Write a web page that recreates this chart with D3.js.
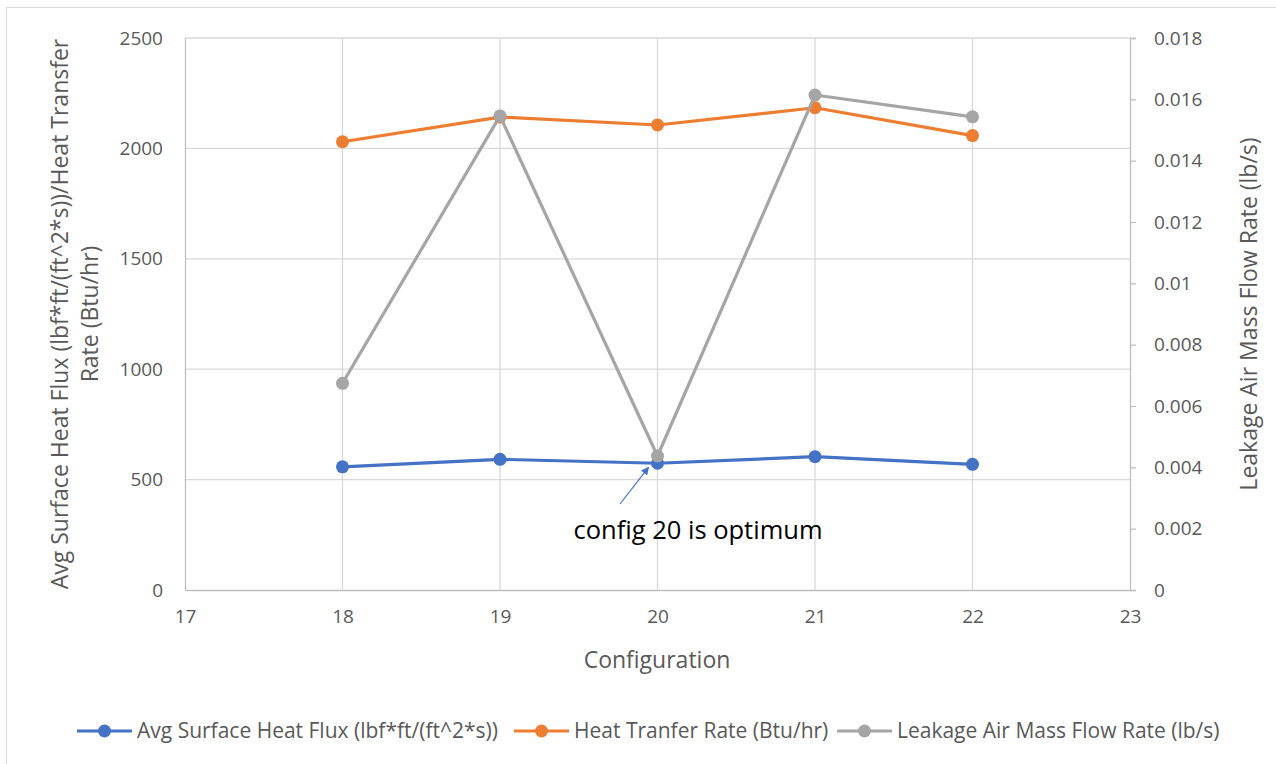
<!DOCTYPE html>
<html>
<head>
<meta charset="utf-8">
<script src="https://cdn.jsdelivr.net/npm/d3@7"></script>
<style>
  html, body { margin: 0; padding: 0; background: #fff; }
  svg { display: block; font-family: "Open Sans", "Noto Sans", sans-serif; }
</style>
</head>
<body>
<svg id="chart" width="1276" height="764"></svg>
<script>
// Configurations and measured series
const configurations = [18, 19, 20, 21, 22];
const heatFlux = [558, 592, 574, 604, 569];            // lbf*ft/(ft^2*s)
const heatTransferRate = [2030, 2142, 2106, 2184, 2058]; // Btu/hr
const leakageFlow = [0.00674, 0.01546, 0.00437, 0.01614, 0.01543]; // lb/s

const xTicks = [17, 18, 19, 20, 21, 22, 23];
const leftTicks = [0, 500, 1000, 1500, 2000, 2500];
const rightTicks = [0, 0.002, 0.004, 0.006, 0.008, 0.01, 0.012, 0.014, 0.016, 0.018];

const seriesNames = [
  "Avg Surface Heat Flux (lbf*ft/(ft^2*s))",
  "Heat Tranfer Rate (Btu/hr)",
  "Leakage Air Mass Flow Rate (lb/s)"
];
const seriesColors = ["#4472C4", "#ED7D31", "#A5A5A5"];

const svg = d3.select("#chart");
const plot = { left: 185, right: 1130, top: 38, bottom: 590 };

// outer chart frame (runs off the right and bottom edges)
svg.append("rect")
  .attr("x", 6.5).attr("y", 7.5)
  .attr("width", 1290).attr("height", 780)
  .attr("fill", "#fff").attr("stroke", "#d9d9d9").attr("stroke-width", 1);

const x = d3.scaleLinear().domain([17, 23]).range([plot.left, plot.right]);
const yL = d3.scaleLinear().domain([0, 2500]).range([plot.bottom, plot.top]);
const yR = d3.scaleLinear().domain([0, 0.018]).range([plot.bottom, plot.top]);

// gridlines
const grid = svg.append("g").attr("stroke", "#d9d9d9").attr("stroke-width", 1.3);
grid.selectAll("line.h").data(leftTicks.filter(d => d > 0)).join("line")
  .attr("x1", plot.left).attr("x2", plot.right)
  .attr("y1", d => yL(d)).attr("y2", d => yL(d));
grid.selectAll("line.v").data(xTicks.filter(d => d > 17 && d < 23)).join("line")
  .attr("class", "v")
  .attr("x1", d => x(d)).attr("x2", d => x(d))
  .attr("y1", plot.top).attr("y2", plot.bottom);

const tickColor = "#595959";
const tickFont = 19;
const titleFont = 23;

function styleAxis(g) {
  g.attr("font-family", null).attr("font-size", null);
  g.select(".domain").attr("stroke", "#bfbfbf").attr("stroke-width", 1.3);
  g.selectAll(".tick line").attr("stroke", "#bfbfbf").attr("stroke-width", 1.3);
  g.selectAll("text").attr("fill", tickColor).attr("font-size", tickFont);
}

// bottom axis
svg.append("g")
  .attr("transform", `translate(0,${plot.bottom})`)
  .call(d3.axisBottom(x).tickValues(xTicks).tickSize(0).tickPadding(20).tickFormat(d3.format("d")))
  .call(styleAxis);

// left axis
svg.append("g")
  .attr("transform", `translate(${plot.left},0)`)
  .call(d3.axisLeft(yL).tickValues(leftTicks).tickSize(0).tickPadding(22).tickFormat(d3.format("d")))
  .call(styleAxis);

// right axis
svg.append("g")
  .attr("transform", `translate(${plot.right},0)`)
  .call(d3.axisRight(yR).tickValues(rightTicks).tickSizeInner(6).tickSizeOuter(6).tickPadding(18)
    .tickFormat(d => d === 0 ? "0" : String(+d.toFixed(3))))
  .call(styleAxis);

// axis titles
svg.append("text")
  .attr("x", 657).attr("y", 668)
  .attr("text-anchor", "middle").attr("fill", tickColor).attr("font-size", titleFont)
  .text("Configuration");

const leftTitle = svg.append("text")
  .attr("transform", "translate(68,314) rotate(-90)")
  .attr("text-anchor", "middle").attr("fill", tickColor).attr("font-size", titleFont);
leftTitle.append("tspan").attr("x", 0).attr("dy", 0)
  .text("Avg Surface Heat Flux (lbf*ft/(ft^2*s))/Heat Transfer");
leftTitle.append("tspan").attr("x", 0).attr("dy", 30).text("Rate (Btu/hr)");

svg.append("text")
  .attr("transform", "translate(1257,314) rotate(-90)")
  .attr("text-anchor", "middle").attr("fill", tickColor).attr("font-size", titleFont)
  .text("Leakage Air Mass Flow Rate (lb/s)");

// series
const series = [
  { values: heatFlux, scale: yL },
  { values: heatTransferRate, scale: yL },
  { values: leakageFlow, scale: yR }
];
const lineGen = (scale) => d3.line().x((d, i) => x(configurations[i])).y(d => scale(d));

series.forEach((s, k) => {
  const g = svg.append("g");
  g.append("path")
    .datum(s.values)
    .attr("d", lineGen(s.scale))
    .attr("fill", "none").attr("stroke", seriesColors[k])
    .attr("stroke-width", 3.2).attr("stroke-linejoin", "round").attr("stroke-linecap", "round");
  g.selectAll("circle").data(s.values).join("circle")
    .attr("cx", (d, i) => x(configurations[i]))
    .attr("cy", d => s.scale(d))
    .attr("r", 6.5)
    .attr("fill", seriesColors[k]);
});

// annotation pointing at configuration 20
const defs = svg.append("defs");
defs.append("marker")
  .attr("id", "arrowHead").attr("viewBox", "0 0 10 10")
  .attr("refX", 9).attr("refY", 5)
  .attr("markerWidth", 9).attr("markerHeight", 8)
  .attr("markerUnits", "userSpaceOnUse")
  .attr("orient", "auto")
  .append("path").attr("d", "M0,0 L10,5 L0,10 Z").attr("fill", "#4472C4");
svg.append("line")
  .attr("x1", 620).attr("y1", 504)
  .attr("x2", x(20) - 9).attr("y2", yL(heatFlux[2]) + 4)
  .attr("stroke", "#4472C4").attr("stroke-width", 1.2)
  .attr("marker-end", "url(#arrowHead)");
svg.append("text")
  .attr("x", 698).attr("y", 539)
  .attr("text-anchor", "middle").attr("fill", "#000").attr("font-size", 25.5)
  .text("config 20 is optimum");

// legend
const legendX = [77, 514, 837];
const legend = svg.append("g").attr("transform", "translate(0,731)");
seriesNames.forEach((name, k) => {
  const lg = legend.append("g").attr("transform", `translate(${legendX[k]},0)`);
  lg.append("line").attr("x1", 0).attr("x2", 55).attr("y1", 0).attr("y2", 0)
    .attr("stroke", seriesColors[k]).attr("stroke-width", 3.2);
  lg.append("circle").attr("cx", 27.5).attr("cy", 0).attr("r", 6.5).attr("fill", seriesColors[k]);
  lg.append("text").attr("x", 60).attr("y", 0).attr("dy", "0.35em")
    .attr("fill", tickColor).attr("font-size", 21).text(name);
});
</script>
</body>
</html>
